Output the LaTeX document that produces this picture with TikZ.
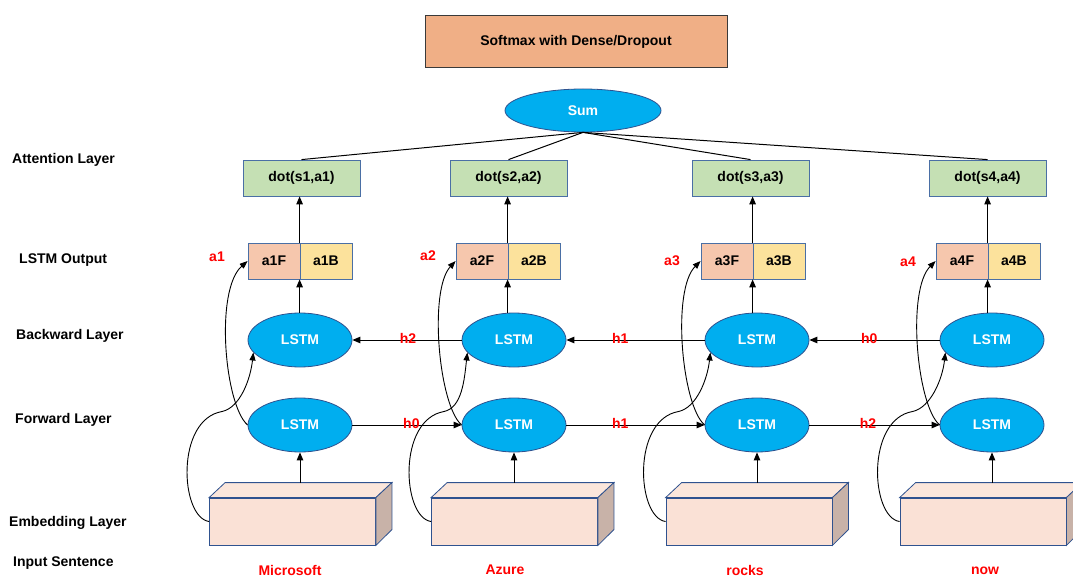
\documentclass[tikz,border=0pt]{standalone}
\usepackage{fontspec}
\setmainfont{Liberation Sans}
\usetikzlibrary{shapes.geometric,arrows.meta,calc}
\definecolor{softmaxfill}{HTML}{F0AF86}
\definecolor{softmaxedge}{HTML}{3A3A3A}
\definecolor{lstmblue}{HTML}{00AEEF}
\definecolor{lstmedge}{HTML}{2F528F}
\definecolor{boxedge}{HTML}{4A6FA5}
\definecolor{dotgreen}{HTML}{C5E0B4}
\definecolor{fwdcell}{HTML}{F6C7AD}
\definecolor{bwdcell}{HTML}{FCE29C}
\definecolor{embfrontc}{HTML}{FAE1D6}
\definecolor{embtopc}{HTML}{FBE6DB}
\definecolor{embsidec}{HTML}{C8B2A8}
\definecolor{lblred}{HTML}{FF0000}
\begin{document}
\begin{tikzpicture}[x=1pt,y=-1pt,
  font=\fontsize{14}{16}\selectfont\bfseries,
  arr/.style={line width=1pt,-{Triangle[length=8pt,width=6.5pt]}},
  curvearr/.style={line width=0.9pt,-{Triangle[length=8pt,width=6pt]}},
  link/.style={line width=1pt},
  lstm/.style={ellipse,draw=lstmedge,fill=lstmblue,line width=0.8pt,
    minimum width=104pt,minimum height=54pt,inner sep=0pt,text=white},
  sumnode/.style={ellipse,draw=lstmedge,fill=lstmblue,line width=0.8pt,
    minimum width=156pt,minimum height=43pt,inner sep=0pt,text=white},
  topbox/.style={rectangle,draw=softmaxedge,fill=softmaxfill,line width=1pt,
    minimum width=302pt,minimum height=52pt,inner sep=0pt},
  dotbox/.style={rectangle,draw=boxedge,fill=dotgreen,line width=0.8pt,
    minimum width=117pt,minimum height=36pt,inner sep=0pt},
  fcell/.style={rectangle,draw=boxedge,fill=fwdcell,line width=0.8pt,
    minimum width=52pt,minimum height=36pt,inner sep=0pt},
  bcell/.style={rectangle,draw=boxedge,fill=bwdcell,line width=0.8pt,
    minimum width=52pt,minimum height=36pt,inner sep=0pt},
  embbox/.style={rectangle,draw=lstmedge,fill=embfrontc,line width=0.8pt,
    minimum width=166pt,minimum height=47pt,inner sep=0pt},
  redlbl/.style={text=lblred,inner sep=0pt},
  hlbl/.style={text=lblred,inner sep=0pt,yshift=2pt},
  layerlbl/.style={anchor=west,inner sep=0pt}
]
\useasboundingbox (0,0) rectangle (1073,577);

% layer captions
\node[layerlbl] (capatt) at (12,160) {Attention Layer};
\node[layerlbl] (capout) at (19,260) {LSTM Output};
\node[layerlbl] (capbwd) at (16,336) {Backward Layer};
\node[layerlbl] (capfwd) at (15,420) {Forward Layer};
\node[layerlbl] (capemb) at (9,523) {Embedding Layer};
\node[layerlbl] (capinp) at (13,563) {Input Sentence};

% top of the network
\node[topbox] (softmax) at (576,42) {Softmax with Dense/Dropout};
\node[sumnode] (sum) at (583,110.5) {Sum};

% one column per word
\foreach \i/\cx/\dx/\sx/\ex/\word/\wx/\wy/\lx/\ly in {
  1/300/301.5/300/292.5/Microsoft/290/570/217/257,
  2/514/508.5/508/514.5/Azure/505/570/428/256,
  3/757/750.5/753/749/rocks/745/570/672/261,
  4/992/987.5/988/983/now/985/571/908/262}{
  \node[dotbox] (dot\i) at (\dx,178) {dot(s\i,a\i)};
  \node[fcell] (af\i) at (\sx-26,261) {a\i F};
  \node[bcell] (ab\i) at (\sx+26,261) {a\i B};
  \node[redlbl] (alab\i) at (\lx,\ly) {a\i};
  \node[lstm] (b\i) at (\cx,340) {LSTM};
  \node[lstm] (f\i) at (\cx,425) {LSTM};
  \node[embbox] (e\i) at (\ex,521.5) {};
  % depth faces of the embedding block
  \filldraw[fill=embtopc,draw=lstmedge,line width=0.8pt]
    (e\i.north west) -- ++(16,-15) -- ($(e\i.north east)+(16,-15)$)
    -- (e\i.north east) -- cycle;
  \filldraw[fill=embsidec,draw=lstmedge,line width=0.8pt]
    (e\i.north east) -- ++(16,-15) -- ++(0,47) -- (e\i.south east) -- cycle;
  \coordinate (et\i) at ($(e\i.north)+(0,-15)$);
  \node[redlbl] (w\i) at (\wx,\wy) {\word};
  % vertical data flow
  \draw[arr] (f\i.south |- et\i) -- (f\i.south);
  \draw[arr] (ab\i.south west |- b\i.north) -- (ab\i.south west);
  \draw[arr] (ab\i.north west) -- (ab\i.north west |- dot\i.south);
  \draw[link] (sum.south) -- (dot\i.north);
  % embedding to backward cell, forward cell to output
  \draw[curvearr] (e\i.west)
    .. controls ($(e\i.west)+(-29,-4)$) and ($(e\i.west)+(-34,-102)$)
    .. ($(e\i.west)+(13,-110)$)
    .. controls ($(e\i.west)+(31,-114)$) and ($(b\i.195)+(-3,27)$)
    .. (b\i.195);
  \draw[curvearr] (f\i.west)
    .. controls ($(f\i.west)+(-23,-20)$) and ($(f\i.west)+(-33,-135)$)
    .. (af\i.west);
}

% hidden states, forward direction
\draw[arr] (f1.east) -- node[hlbl,pos=.54] {h0} (f2.west);
\draw[arr] (f2.east) -- node[hlbl,pos=.39] {h1} (f3.west);
\draw[arr] (f3.east) -- node[hlbl,pos=.45] {h2} (f4.west);
% hidden states, backward direction
\draw[arr] (b4.west) -- node[hlbl,pos=.54] {h0} (b3.east);
\draw[arr] (b3.west) -- node[hlbl,pos=.61] {h1} (b2.east);
\draw[arr] (b2.west) -- node[hlbl,pos=.49] {h2} (b1.east);
\end{tikzpicture}
\end{document}
